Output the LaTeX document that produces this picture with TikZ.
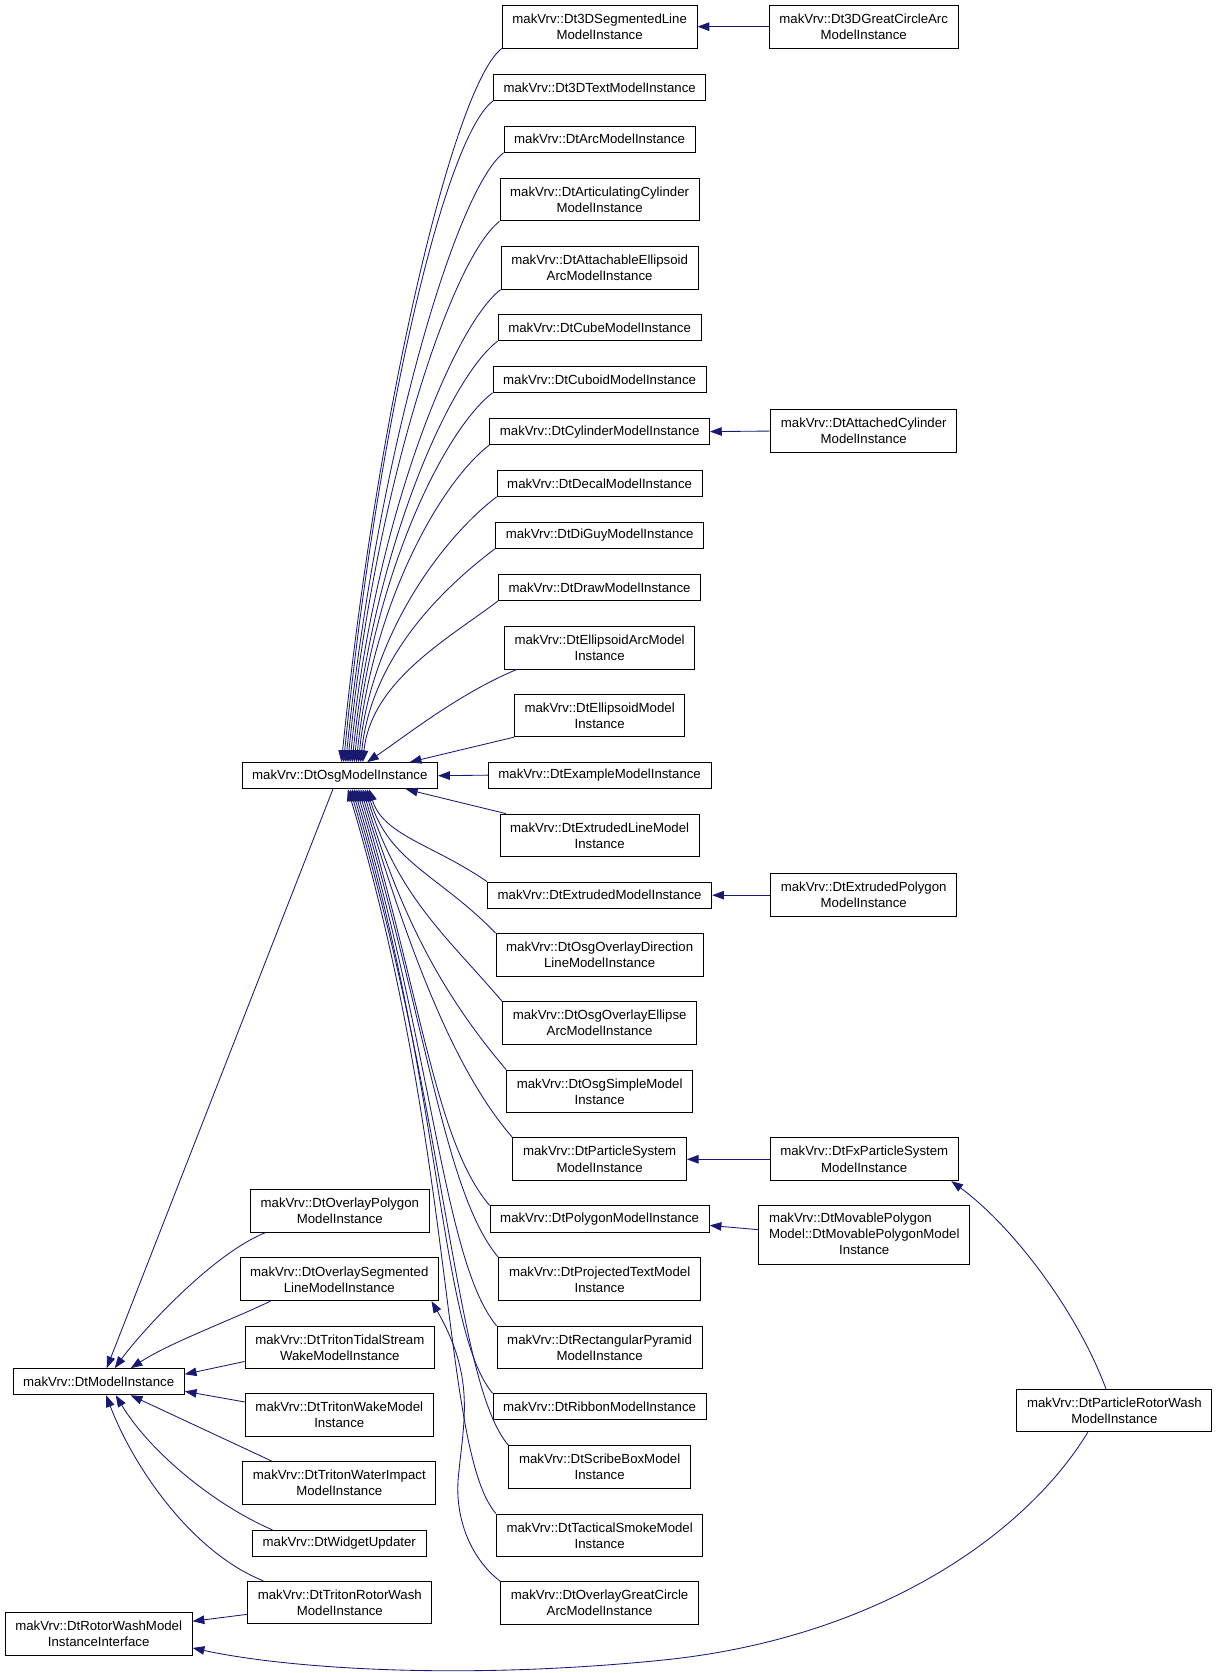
\documentclass[tikz,border=0pt]{standalone}
\usepackage{fontspec}
\setmainfont{Liberation Sans}
\usetikzlibrary{arrows.meta}
\definecolor{edgeblue}{HTML}{191970}

\begin{document}
\begin{tikzpicture}[x=1pt, y=-1pt,
    cls/.style={draw, line width=0.9pt, fill=white, inner xsep=9.5pt, inner ysep=0pt,
        minimum height=24.5pt, align=center, font=\fontsize{12.4}{15}\selectfont},
    cls2/.style={cls, minimum height=40pt},
    cls3/.style={cls, minimum height=55pt},
    inh/.style={draw=edgeblue, line width=0.8pt, -{Triangle[length=11pt,width=8pt]}}]
    \useasboundingbox (0,0) rectangle (1142,1568);

    \node[cls] (modelI) at (92.5,1295) {makVrv::DtModelInstance};
    \node[cls2] (rwIface) at (92.5,1531.5) {makVrv::DtRotorWashModel\\InstanceInterface};

    \node[cls] (osg) at (318.5,727) {makVrv::DtOsgModelInstance};
    \node[cls2] (ovPoly) at (318.5,1135) {makVrv::DtOverlayPolygon\\ModelInstance};
    \node[cls2] (ovSeg) at (318,1199) {makVrv::DtOverlaySegmented\\LineModelInstance};
    \node[cls2] (tidal) at (318.5,1263) {makVrv::DtTritonTidalStream\\WakeModelInstance};
    \node[cls2] (wake) at (318,1326) {makVrv::DtTritonWakeModel\\Instance};
    \node[cls2] (waterImp) at (318,1390) {makVrv::DtTritonWaterImpact\\ModelInstance};
    \node[cls] (widget) at (318,1446.5) {makVrv::DtWidgetUpdater};
    \node[cls2] (tritonRW) at (318.5,1502) {makVrv::DtTritonRotorWash\\ModelInstance};

    \node[cls2] (seg3d) at (562,25) {makVrv::Dt3DSegmentedLine\\ModelInstance};
    \node[cls] (text3d) at (562,82) {makVrv::Dt3DTextModelInstance};
    \node[cls] (arc) at (562,130.5) {makVrv::DtArcModelInstance};
    \node[cls2] (artCyl) at (562,187) {makVrv::DtArticulatingCylinder\\ModelInstance};
    \node[cls2] (attEll) at (562,251) {makVrv::DtAttachableEllipsoid\\ArcModelInstance};
    \node[cls] (cube) at (562,307) {makVrv::DtCubeModelInstance};
    \node[cls] (cuboid) at (562,355.5) {makVrv::DtCuboidModelInstance};
    \node[cls] (cylinder) at (562,404.5) {makVrv::DtCylinderModelInstance};
    \node[cls] (decal) at (562,453) {makVrv::DtDecalModelInstance};
    \node[cls] (diguy) at (562,501.5) {makVrv::DtDiGuyModelInstance};
    \node[cls] (draw) at (562,550.5) {makVrv::DtDrawModelInstance};
    \node[cls2] (ellArc) at (562,607) {makVrv::DtEllipsoidArcModel\\Instance};
    \node[cls2] (ellModel) at (562,670.5) {makVrv::DtEllipsoidModel\\Instance};
    \node[cls] (example) at (562,726.5) {makVrv::DtExampleModelInstance};
    \node[cls2] (extLine) at (562,783) {makVrv::DtExtrudedLineModel\\Instance};
    \node[cls] (extruded) at (562,839) {makVrv::DtExtrudedModelInstance};
    \node[cls2] (osgOvDir) at (562,895) {makVrv::DtOsgOverlayDirection\\LineModelInstance};
    \node[cls2] (osgOvEll) at (562,959) {makVrv::DtOsgOverlayEllipse\\ArcModelInstance};
    \node[cls2] (osgSimple) at (562,1023) {makVrv::DtOsgSimpleModel\\Instance};
    \node[cls2] (particle) at (562,1086.5) {makVrv::DtParticleSystem\\ModelInstance};
    \node[cls] (polygon) at (562,1142.5) {makVrv::DtPolygonModelInstance};
    \node[cls2] (projText) at (562,1199) {makVrv::DtProjectedTextModel\\Instance};
    \node[cls2] (rectPyr) at (562,1263) {makVrv::DtRectangularPyramid\\ModelInstance};
    \node[cls] (ribbon) at (562,1318.5) {makVrv::DtRibbonModelInstance};
    \node[cls2] (scribe) at (562,1375) {makVrv::DtScribeBoxModel\\Instance};
    \node[cls2] (tactical) at (562,1439) {makVrv::DtTacticalSmokeModel\\Instance};
    \node[cls2] (ovGreat) at (562,1502.5) {makVrv::DtOverlayGreatCircle\\ArcModelInstance};

    \node[cls2] (greatArc3d) at (809.5,25) {makVrv::Dt3DGreatCircleArc\\ModelInstance};
    \node[cls2] (attCyl) at (809.5,404) {makVrv::DtAttachedCylinder\\ModelInstance};
    \node[cls2] (extPoly) at (809.5,839) {makVrv::DtExtrudedPolygon\\ModelInstance};
    \node[cls2] (fxPart) at (810,1086.5) {makVrv::DtFxParticleSystem\\ModelInstance};
    \node[cls3] (movPoly) at (810,1157.5) {\begin{tabular}{@{}l@{}}makVrv::DtMovablePolygon\\
        Model::DtMovablePolygonModel\\\multicolumn{1}{@{}c@{}}{Instance}\end{tabular}};
    \node[cls2] (partRW) at (1044.5,1322) {makVrv::DtParticleRotorWash\\ModelInstance};

    % children above DtOsgModelInstance
    \draw[inh] (seg3d.south west) .. controls (426,79) and (354,379) .. ([xshift=1.5pt]osg.north);
    \draw[inh] (text3d.south west) .. controls (416,129) and (353,404) .. ([xshift=3.5pt]osg.north);
    \draw[inh] (arc.south west) .. controls (427,178) and (353,429) .. ([xshift=5.5pt]osg.north);
    \draw[inh] (artCyl.south west) .. controls (423,242) and (351,460) .. ([xshift=7.5pt]osg.north);
    \draw[inh] (attEll.south west) .. controls (424,306) and (350,492) .. ([xshift=9.5pt]osg.north);
    \draw[inh] (cube.south west) .. controls (421,354) and (350,516) .. ([xshift=11.5pt]osg.north);
    \draw[inh] (cuboid.south west) .. controls (416,403) and (349,541) .. ([xshift=13.5pt]osg.north);
    \draw[inh] (cylinder.south west) .. controls (413,452) and (349,565) .. ([xshift=15.5pt]osg.north);
    \draw[inh] (decal.south west) .. controls (420,500) and (348,589) .. ([xshift=17.5pt]osg.north);
    \draw[inh] (diguy.south west) .. controls (418,549) and (348,614) .. ([xshift=19.5pt]osg.north);
    \draw[inh] (draw.south west) .. controls (421,598) and (348,638) .. ([xshift=21.5pt]osg.north);
    \draw[inh] ([xshift=12pt]ellArc.south west) .. controls (430,650) and (380,690) .. ([xshift=25.5pt]osg.north);
    \draw[inh] (ellModel.south west) -- ([xshift=65.5pt]osg.north);
    \draw[inh] (example.west) -- (osg.east);

    % children below DtOsgModelInstance
    \draw[inh] ([xshift=6pt]extLine.north west) -- ([xshift=62pt]osg.south);
    \draw[inh] (extruded.north west) .. controls (407,792) and (359,783) .. ([xshift=27.5pt]osg.south);
    \draw[inh] (osgOvDir.north west) .. controls (413,821) and (364,808) .. ([xshift=25.5pt]osg.south);
    \draw[inh] (osgOvEll.north west) .. controls (420,879) and (372,840) .. ([xshift=23.5pt]osg.south);
    \draw[inh] (osgSimple.north west) .. controls (424,943) and (379,872) .. ([xshift=21.5pt]osg.south);
    \draw[inh] (particle.north west) .. controls (429,1007) and (387,904) .. ([xshift=19.5pt]osg.south);
    \draw[inh] (polygon.north west) .. controls (408,1070) and (395,935) .. ([xshift=17.5pt]osg.south);
    \draw[inh] (projText.north west) .. controls (417,1119) and (400,960) .. ([xshift=15.5pt]osg.south);
    \draw[inh] (rectPyr.north west) .. controls (416,1183) and (407,992) .. ([xshift=13.5pt]osg.south);
    \draw[inh] (ribbon.north west) .. controls (412,1246) and (415,1023) .. ([xshift=11.5pt]osg.south);
    \draw[inh] (scribe.north west) .. controls (426,1295) and (420,1048) .. ([xshift=9.5pt]osg.south);
    \draw[inh] (tactical.north west) .. controls (414,1359) and (428,1080) .. ([xshift=7.5pt]osg.south);

    % children of DtModelInstance
    \draw[inh] ([xshift=-6.5pt]osg.south) -- ([xshift=7.5pt]modelI.north);
    \draw[inh] ([xshift=14pt]ovPoly.south west) .. controls (200,1175) and (135,1245) .. ([xshift=15pt]modelI.north);
    \draw[inh] ([xshift=29pt]ovSeg.south west) .. controls (215,1238) and (160,1258) .. ([xshift=30pt]modelI.north);
    \draw[inh] ([yshift=-13pt]tidal.west) -- ([yshift=7pt]modelI.east);
    \draw[inh] ([yshift=12pt]wake.west) -- ([yshift=-9pt]modelI.east);
    \draw[inh] ([xshift=28pt]waterImp.north west) -- ([xshift=30pt]modelI.south);
    \draw[inh] ([xshift=19pt]widget.north west) .. controls (200,1410) and (140,1360) .. ([xshift=16pt]modelI.south);
    \draw[inh] ([xshift=15pt]tritonRW.north west) .. controls (180,1455) and (125,1375) .. ([xshift=7pt]modelI.south);

    % the rest
    \draw[inh] ([yshift=-11pt]tritonRW.west) -- ([yshift=12pt]rwIface.east);
    \draw[inh] ([xshift=-25pt]partRW.south) .. controls (960,1440) and (820,1536) .. (620,1556)
        .. controls (420,1576) and (260,1562) .. ([yshift=-13pt]rwIface.east);
    \draw[inh] ([xshift=-8pt]partRW.north) .. controls (1010,1230) and (950,1150) .. ([xshift=-7pt]fxPart.south east);
    \draw[inh] (fxPart.west) -- (particle.east);
    \draw[inh] ([yshift=5pt]movPoly.west) -- ([yshift=-6pt]polygon.east);
    \draw[inh] (attCyl.west) -- (cylinder.east);
    \draw[inh] (extPoly.west) -- (extruded.east);
    \draw[inh] (greatArc3d.west) -- (seg3d.east);
    \draw[inh] (ovGreat.north west) .. controls (440,1460) and (425,1420) .. (430,1380)
        .. controls (435,1330) and (445,1290) .. ([xshift=-7pt]ovSeg.south east);
\end{tikzpicture}
\end{document}
